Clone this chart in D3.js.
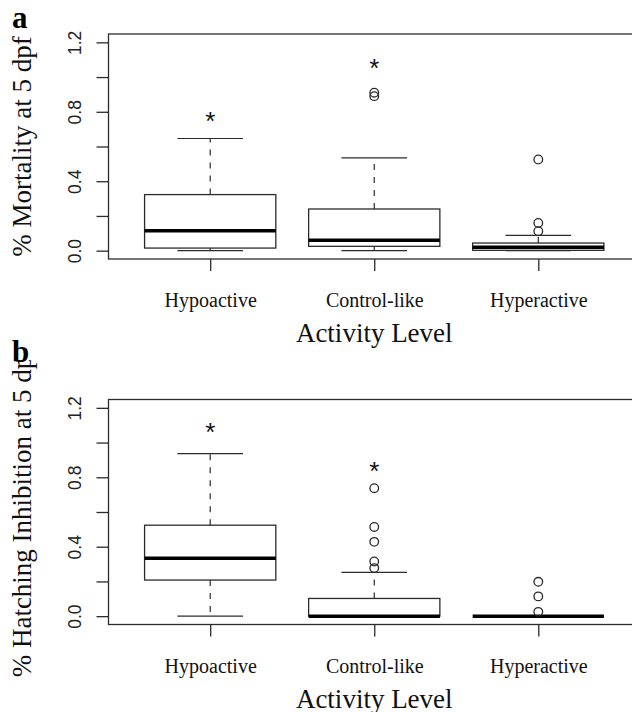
<!DOCTYPE html>
<html>
<head>
<meta charset="utf-8">
<script src="https://cdn.jsdelivr.net/npm/d3@7"></script>
<style>
  body { margin: 0; background: #fff; }
  svg { display: block; }
</style>
</head>
<body>
<script>
// categories and tick labels
const categories = ['Hypoactive', 'Control-like', 'Hyperactive'];
const yTicks = [0, 0.2, 0.4, 0.6, 0.8, 1.0, 1.2];
const yTickLabels = ['0.0', '', '0.4', '', '0.8', '', '1.2'];

// panel a: mortality
const mortalityLow = [0.0, 0.0, 0.0];
const mortalityQ1 = [0.015, 0.025, 0.002];
const mortalityMedian = [0.115, 0.06, 0.02];
const mortalityQ3 = [0.323, 0.24, 0.044];
const mortalityHigh = [0.646, 0.535, 0.088];
const mortalityOutliers = [[], [0.91, 0.89], [0.525, 0.16, 0.112]];
const mortalityStars = [0.78, 1.09, null];

// panel b: hatching inhibition
const hatchLow = [0.0, 0.0, 0.0];
const hatchQ1 = [0.208, 0.0, 0.0];
const hatchMedian = [0.333, 0.0, 0.0];
const hatchQ3 = [0.524, 0.102, 0.0];
const hatchHigh = [0.936, 0.252, 0.0];
const hatchOutliers = [[], [0.737, 0.514, 0.428, 0.315, 0.277], [0.198, 0.114, 0.025]];
const hatchStars = [1.096, 0.871, null];

const W = 632, H = 712;
const LEFT = 108.5, RIGHT = 640;
const LINE = '#2b2b2b';
const SERIF = '"Liberation Serif", "Times New Roman", serif';
const SANS = '"Liberation Sans", Arial, sans-serif';

const svg = d3.select('body').append('svg')
    .attr('width', W)
    .attr('height', H);

// the long y label of panel b gets cut at the top of its figure region
svg.append('defs').append('clipPath')
    .attr('id', 'labelClipB')
  .append('rect')
    .attr('x', 0).attr('y', 360).attr('width', 100).attr('height', 400);

// R style x scale: groups at 1..3, xlim 0.5..3.5 plus 4%
const x = d3.scaleLinear().domain([0.38, 3.62]).range([LEFT, RIGHT]);
const boxHalf = x(1.4) - x(1);   // boxwex 0.8
const capHalf = boxHalf / 2;     // staplewex 0.5

function drawPanel(opts) {
    const top = opts.top, bottom = opts.top + 225;
    const y = d3.scaleLinear().domain([-0.048, 1.248]).range([bottom, top]);
    const g = svg.append('g');

    // frame
    g.append('rect')
        .attr('x', LEFT).attr('y', top)
        .attr('width', RIGHT - LEFT).attr('height', bottom - top)
        .attr('fill', 'none').attr('stroke', LINE).attr('stroke-width', 1.3);

    // y axis
    const yAxis = d3.axisLeft(y)
        .tickValues(yTicks)
        .tickSize(12)
        .tickFormat((d, i) => yTickLabels[i]);
    const ya = g.append('g')
        .attr('transform', `translate(${LEFT},0)`)
        .call(yAxis);
    ya.select('.domain').remove();
    ya.selectAll('line').attr('stroke', LINE).attr('stroke-width', 1.3);
    ya.selectAll('text')
        .attr('x', 0).attr('y', -28).attr('dy', 0)
        .attr('transform', 'rotate(-90)')
        .attr('text-anchor', 'middle')
        .attr('fill', '#222')
        .style('font-family', SANS)
        .style('font-size', '17.5px');

    // x axis
    const xAxis = d3.axisBottom(x)
        .tickValues([1, 2, 3])
        .tickSize(12)
        .tickFormat((d, i) => categories[i]);
    const xa = g.append('g')
        .attr('transform', `translate(0,${bottom})`)
        .call(xAxis);
    xa.select('.domain').remove();
    xa.selectAll('line').attr('stroke', LINE).attr('stroke-width', 1.3);
    xa.selectAll('text')
        .attr('y', 48).attr('dy', 0)
        .attr('fill', '#111')
        .style('font-family', SERIF)
        .style('font-size', '20px');

    const stats = categories.map((c, i) => ({
        i: i + 1,
        low: opts.low[i], q1: opts.q1[i], med: opts.med[i],
        q3: opts.q3[i], high: opts.high[i],
        out: opts.out[i], star: opts.star[i]
    }));

    const box = g.selectAll('.box').data(stats).enter().append('g').attr('class', 'box');

    // whiskers (dashed)
    box.append('line')
        .attr('x1', d => x(d.i)).attr('x2', d => x(d.i))
        .attr('y1', d => y(d.q3)).attr('y2', d => y(d.high))
        .attr('stroke', LINE).attr('stroke-width', 1.2)
        .attr('stroke-dasharray', '6,7');
    box.append('line')
        .attr('x1', d => x(d.i)).attr('x2', d => x(d.i))
        .attr('y1', d => y(d.q1)).attr('y2', d => y(d.low))
        .attr('stroke', LINE).attr('stroke-width', 1.2)
        .attr('stroke-dasharray', '6,7');

    // staples
    [d => d.high, d => d.low].forEach(f => {
        box.append('line')
            .attr('x1', d => x(d.i) - capHalf).attr('x2', d => x(d.i) + capHalf)
            .attr('y1', d => y(f(d))).attr('y2', d => y(f(d)))
            .attr('stroke', LINE).attr('stroke-width', 1.2);
    });

    // boxes
    box.append('rect')
        .attr('x', d => x(d.i) - boxHalf)
        .attr('width', boxHalf * 2)
        .attr('y', d => y(d.q3))
        .attr('height', d => y(d.q1) - y(d.q3))
        .attr('fill', 'none')
        .attr('stroke', LINE).attr('stroke-width', 1.3);

    // medians
    box.append('line')
        .attr('x1', d => x(d.i) - boxHalf).attr('x2', d => x(d.i) + boxHalf)
        .attr('y1', d => y(d.med)).attr('y2', d => y(d.med))
        .attr('stroke', '#000').attr('stroke-width', 3.5);

    // outliers
    box.selectAll('circle')
        .data(d => d.out.map(v => ({ i: d.i, v: v })))
        .enter().append('circle')
        .attr('cx', d => x(d.i))
        .attr('cy', d => y(d.v))
        .attr('r', 4.3)
        .attr('fill', 'none')
        .attr('stroke', LINE).attr('stroke-width', 1.3);

    // significance stars
    g.selectAll('.star')
        .data(stats.filter(d => d.star != null))
        .enter().append('text')
        .attr('class', 'star')
        .attr('x', d => x(d.i))
        .attr('y', d => y(d.star))
        .attr('dy', '0.58em')
        .attr('text-anchor', 'middle')
        .style('font-family', SANS)
        .style('font-size', '26px')
        .attr('fill', '#111')
        .text('*');

    // axis titles
    g.append('text')
        .attr('x', (LEFT + RIGHT) / 2)
        .attr('y', bottom + 83)
        .attr('text-anchor', 'middle')
        .style('font-family', SERIF)
        .style('font-size', '27px')
        .attr('fill', '#111')
        .text('Activity Level');

    const yl = opts.clip ? g.append('g').attr('clip-path', `url(#${opts.clip})`) : g;
    yl.append('text')
        .attr('transform', `translate(31,${(top + bottom) / 2}) rotate(-90)`)
        .attr('text-anchor', 'middle')
        .style('font-family', SERIF)
        .style('font-size', '27px')
        .attr('fill', '#111')
        .text(opts.ylabel);

    // panel letter
    svg.append('text')
        .attr('x', 12)
        .attr('y', opts.letterY)
        .style('font-family', SERIF)
        .style('font-size', '31px')
        .style('font-weight', 'bold')
        .attr('fill', '#000')
        .text(opts.letter);
}

drawPanel({
    top: 34, letter: 'a', letterY: 28,
    ylabel: '% Mortality at 5 dpf',
    low: mortalityLow, q1: mortalityQ1, med: mortalityMedian,
    q3: mortalityQ3, high: mortalityHigh,
    out: mortalityOutliers, star: mortalityStars
});

drawPanel({
    top: 399.5, letter: 'b', letterY: 362,
    ylabel: '% Hatching Inhibition at 5 dpf',
    low: hatchLow, q1: hatchQ1, med: hatchMedian,
    q3: hatchQ3, high: hatchHigh,
    out: hatchOutliers, star: hatchStars, clip: 'labelClipB'
});
</script>
</body>
</html>
